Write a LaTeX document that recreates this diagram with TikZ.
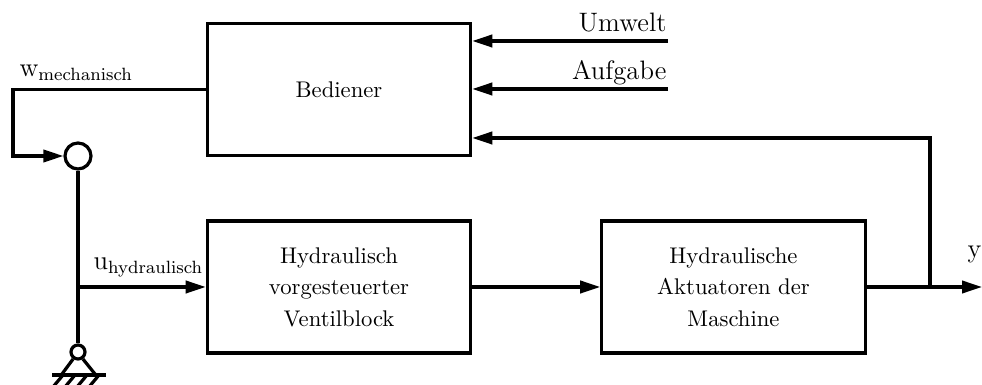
\documentclass[tikz,border=0pt]{standalone}
\usetikzlibrary{arrows.meta}
\begin{document}
\begin{tikzpicture}[x=0.45pt,y=-0.45pt,line width=1.45pt,
  block/.style={draw, minimum width=118.5pt, minimum height=59.4pt, inner sep=0pt,
    align=center, font=\fontsize{10.2}{14.2}\selectfont},
  sig/.style={-{Triangle[length=9pt,width=5.5pt]}},
  lbl/.style={inner sep=0pt, font=\large},
  joint/.style={circle, draw, inner sep=0pt}]
\useasboundingbox (0,0) rectangle (982,385);

% blocks
\node[block] (bed) at (339,89.5) {Bediener};
\node[block] (ventil) at (339,287) {Hydraulisch\\vorgesteuerter\\Ventilblock};
\node[block] (akt) at (733.5,287) {Hydraulische\\Aktuatoren der\\Maschine};

% summing point and fixed support
\node[joint, minimum size=11.7pt] (sum) at (78,156) {};
\node[joint, minimum size=6.3pt] (gnd) at (78,352) {};

% helper coordinates
\coordinate (wl) at (13,156);
\coordinate (uw) at (668,41);
\coordinate (af) at (668,89);
\coordinate (fbrow) at (0,138);
\coordinate (fb) at (930,287);
\coordinate (out) at (982,287);

% mechanical input loop
\draw[sig] (bed.west) -| (wl) -- (sum.west);
\draw (sum.south) -- (gnd.north);
\draw[sig] (sum.south |- ventil.west) -- (ventil.west);

% forward path
\draw[sig] (ventil.east) -- (akt.west);
\draw[sig] (akt.east) -- (out);

% inputs to the operator
\draw[sig] (uw) -- (bed.east |- uw);
\draw[sig] (af) -- (bed.east |- af);
\draw[sig] (fb) |- (bed.east |- fbrow);

% labels
\node[lbl, anchor=base east] (uwl) at (668,32) {Umwelt};
\node[lbl, anchor=base east] (afl) at (668,80) {Aufgabe};
\node[lbl, anchor=base west] (wml) at (18,77) {w$_{\mathrm{mechanisch}}$};
\node[lbl, anchor=base west] (uhl) at (92,270) {u$_{\mathrm{hydraulisch}}$};
\node[lbl, anchor=base west] (yl) at (966,258) {y};

% support triangle and ground hatching
\draw (gnd.-125) -- (62,374) (gnd.-55) -- (95,374);
\draw (52,375) -- (106,375);
\foreach \hx in {63,75,87,99} {
  \draw (\hx,375) -- (\hx-10,387);
}
\end{tikzpicture}
\end{document}
